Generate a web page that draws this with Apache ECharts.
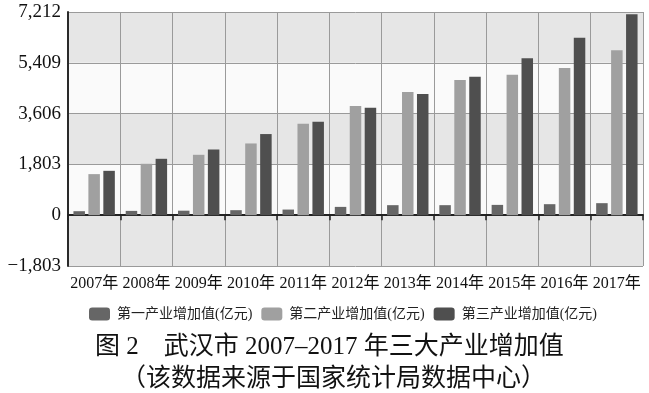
<!DOCTYPE html>
<html>
<head>
<meta charset="utf-8">
<script src="https://cdn.jsdelivr.net/npm/echarts@6/dist/echarts.min.js"></script>
<style>html,body{margin:0;padding:0;background:#fff}#c{width:649px;height:393px}</style>
</head>
<body>
<div id="c"></div>
<script>
const categories = ['2007年','2008年','2009年','2010年','2011年','2012年','2013年','2014年','2015年','2016年','2017年'];
const seriesNames = ['第一产业增加值(亿元)','第二产业增加值(亿元)','第三产业增加值(亿元)'];
const primary = [142, 153, 160, 178, 200, 295, 356, 356, 366, 391, 427];
const secondary = [1458, 1824, 2144, 2546, 3247, 3876, 4374, 4800, 4989, 5227, 5853];
const tertiary = [1575, 2002, 2333, 2880, 3318, 3815, 4303, 4918, 5569, 6294, 7133];
const yTicks = { min: -1803, max: 7212, interval: 1803 };
const titleText = '图 2　武汉市 2007–2017 年三大产业增加值';
const subtitleText = '（该数据来源于国家统计局数据中心）';

const FONT = "'Liberation Serif', 'Noto Sans CJK SC', serif";
const colors = ['#666666', '#a0a0a0', '#4f4f4f'];
const chart = echarts.init(document.getElementById('c'), null, { renderer: 'canvas' });
function fmt(v) {
  const s = Math.abs(Math.round(v)).toString().replace(/\B(?=(\d{3})+(?!\d))/g, ',');
  return v < 0 ? '\u2212' + s : s;
}
const dataSets = [primary, secondary, tertiary];
chart.setOption({
  animation: false,
  backgroundColor: '#ffffff',
  title: [
    { text: titleText, left: 90, top: 327, textStyle: { fontFamily: FONT, fontSize: 25, fontWeight: 'normal', color: '#111', lineHeight: 30 } },
    { text: subtitleText, left: 116, top: 359, textStyle: { fontFamily: FONT, fontSize: 25, fontWeight: 'normal', color: '#111', lineHeight: 30 } }
  ],
  legend: {
    left: 84, top: 302, itemWidth: 21, itemHeight: 13, itemGap: 9, icon: 'roundRect',
    textStyle: { fontFamily: FONT, fontSize: 14, color: '#222', padding: [0, 0, 0, 2] },
    data: seriesNames
  },
  grid: { left: 68, right: 6, top: 12, bottom: 127, containLabel: false },
  xAxis: [
    {
      type: 'category', data: categories, position: 'bottom',
      axisLine: { show: false, onZero: false },
      axisTick: { show: false },
      axisLabel: { fontFamily: FONT, fontSize: 16, color: '#111', margin: 10, interval: 0 },
      splitLine: { show: true, interval: 0, lineStyle: { color: '#9a9a9a', width: 1 } }
    },
    {
      type: 'category', data: categories, position: 'top',
      axisLine: { show: true, onZero: true, lineStyle: { color: '#222', width: 2 } },
      axisTick: { show: true, inside: true, length: 5, lineStyle: { color: '#222', width: 1.5 } },
      axisLabel: { show: false },
      splitLine: { show: false }
    }
  ],
  yAxis: {
    type: 'value', min: yTicks.min, max: yTicks.max, interval: yTicks.interval,
    axisLine: { show: true, lineStyle: { color: '#2a2a2a', width: 2 } },
    axisTick: { show: false },
    axisLabel: { fontFamily: FONT, fontSize: 19, color: '#111', margin: 7, formatter: fmt },
    splitLine: { show: true, lineStyle: { color: '#9a9a9a', width: 1 } },
    splitArea: { show: true, areaStyle: { color: ['#e6e6e6', '#fafafa'] } }
  },
  series: seriesNames.map((n, i) => ({
    name: n, type: 'bar', xAxisIndex: 0, data: dataSets[i],
    barWidth: 11.5, barGap: '30%',
    itemStyle: { color: colors[i] }
  }))
});
</script>
</body>
</html>
